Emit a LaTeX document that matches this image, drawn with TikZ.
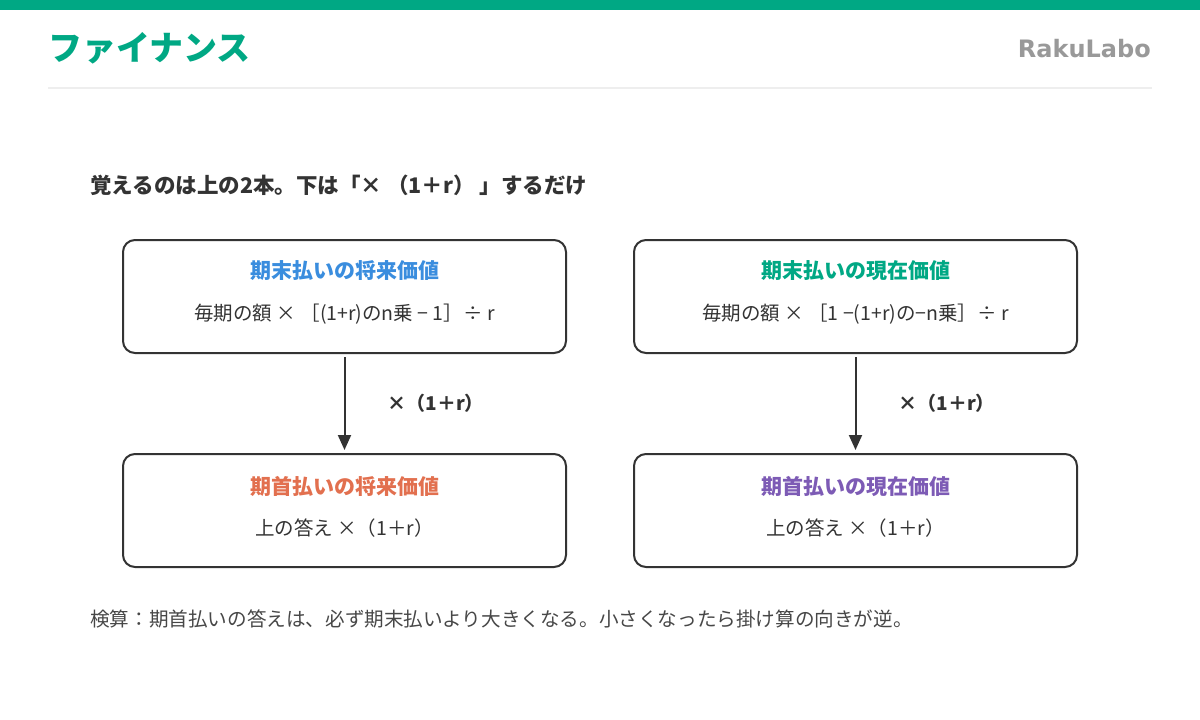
\documentclass[tikz,border=0pt]{standalone}
\usepackage{fontspec}
\setmainfont{Noto Sans CJK JP}
\newfontfamily\logofont{DejaVu Sans}
\usetikzlibrary{arrows.meta,positioning}
\definecolor{rakugreen}{HTML}{00A884}
\definecolor{fvblue}{HTML}{3A8DDE}
\definecolor{fvorange}{HTML}{E2704F}
\definecolor{pvpurple}{HTML}{7D5BB5}
\definecolor{textdark}{HTML}{333333}
\definecolor{logogray}{HTML}{999999}
\definecolor{rulegray}{HTML}{EEEEEE}

\begin{document}
\begin{tikzpicture}[x=1pt,y=-1pt]
        \tikzstyle{flow box}=[draw=textdark,line width=2pt,rounded corners=12pt,minimum width=443pt,minimum height=113pt,inner sep=0pt]
        \tikzstyle{box title}=[inner sep=0pt,font=\fontsize{21}{24}\selectfont\bfseries]
        \tikzstyle{box formula}=[inner sep=0pt,text=textdark,font=\fontsize{19.5}{22}\selectfont]
        \tikzstyle{step label}=[inner sep=0pt,text=textdark,font=\fontsize{19}{22}\selectfont\bfseries]
        \tikzstyle{step arrow}=[draw=textdark,line width=2pt,-{Triangle[length=15pt,width=13pt]},shorten <=3pt,shorten >=3pt]

        \useasboundingbox (0,0) rectangle (1200,720);
        \fill[rakugreen] (0,0) rectangle (1200,10);
        \node[inner sep=0pt,anchor=west,text=rakugreen,font=\fontsize{34}{40}\selectfont\bfseries] (title) at (48,48) {ファイナンス};
        \node[inner sep=0pt,anchor=east,text=logogray,font=\logofont\fontsize{24}{28}\selectfont\bfseries] (logo) at (1151,49) {RakuLabo};
        \draw[rulegray,line width=1.5pt] (48,88) -- (1152,88);

        \node[inner sep=0pt,anchor=west,text=textdark,font=\fontsize{21.5}{24}\selectfont\bfseries] (lead) at (90,185) {覚えるのは上の2本。下は「× （1＋r） 」するだけ};

        % upper boxes
        \node[flow box] (fvend) at (344.5,296.5) {};
        \node[flow box] (pvend) at (855.5,296.5) {};
        % lower boxes
        \node[flow box] (fvbegin) at (344.5,510.5) {};
        \node[flow box] (pvbegin) at (855.5,510.5) {};

        \node[box title,text=fvblue] (fvendtitle) at (344.5,271) {期末払いの将来価値};
        \node[box formula] (fvendrule) at (344.5,314) {毎期の額 × ［(1+r)のn乗 − 1］÷ r};
        \node[box title,text=rakugreen] (pvendtitle) at (855.5,271) {期末払いの現在価値};
        \node[box formula] (pvendrule) at (855.5,314) {毎期の額 × ［1 −(1+r)の−n乗］÷ r};
        \node[box title,text=fvorange] (fvbegintitle) at (344.5,486) {期首払いの将来価値};
        \node[box formula] (fvbeginrule) at (344.5,528) {上の答え ×（1＋r）};
        \node[box title,text=pvpurple] (pvbegintitle) at (855.5,486) {期首払いの現在価値};
        \node[box formula] (pvbeginrule) at (855.5,528) {上の答え ×（1＋r）};

        \draw[step arrow] (fvend) -- node[step label,right=42pt]{×（1＋r）} (fvbegin);
        \draw[step arrow] (pvend) -- node[step label,right=42pt]{×（1＋r）} (pvbegin);

        \node[inner sep=0pt,anchor=west,text=textdark!90,font=\fontsize{19.6}{22}\selectfont] (check) at (90,619) {検算：期首払いの答えは、必ず期末払いより大きくなる。小さくなったら掛け算の向きが逆。};
\end{tikzpicture}
\end{document}
